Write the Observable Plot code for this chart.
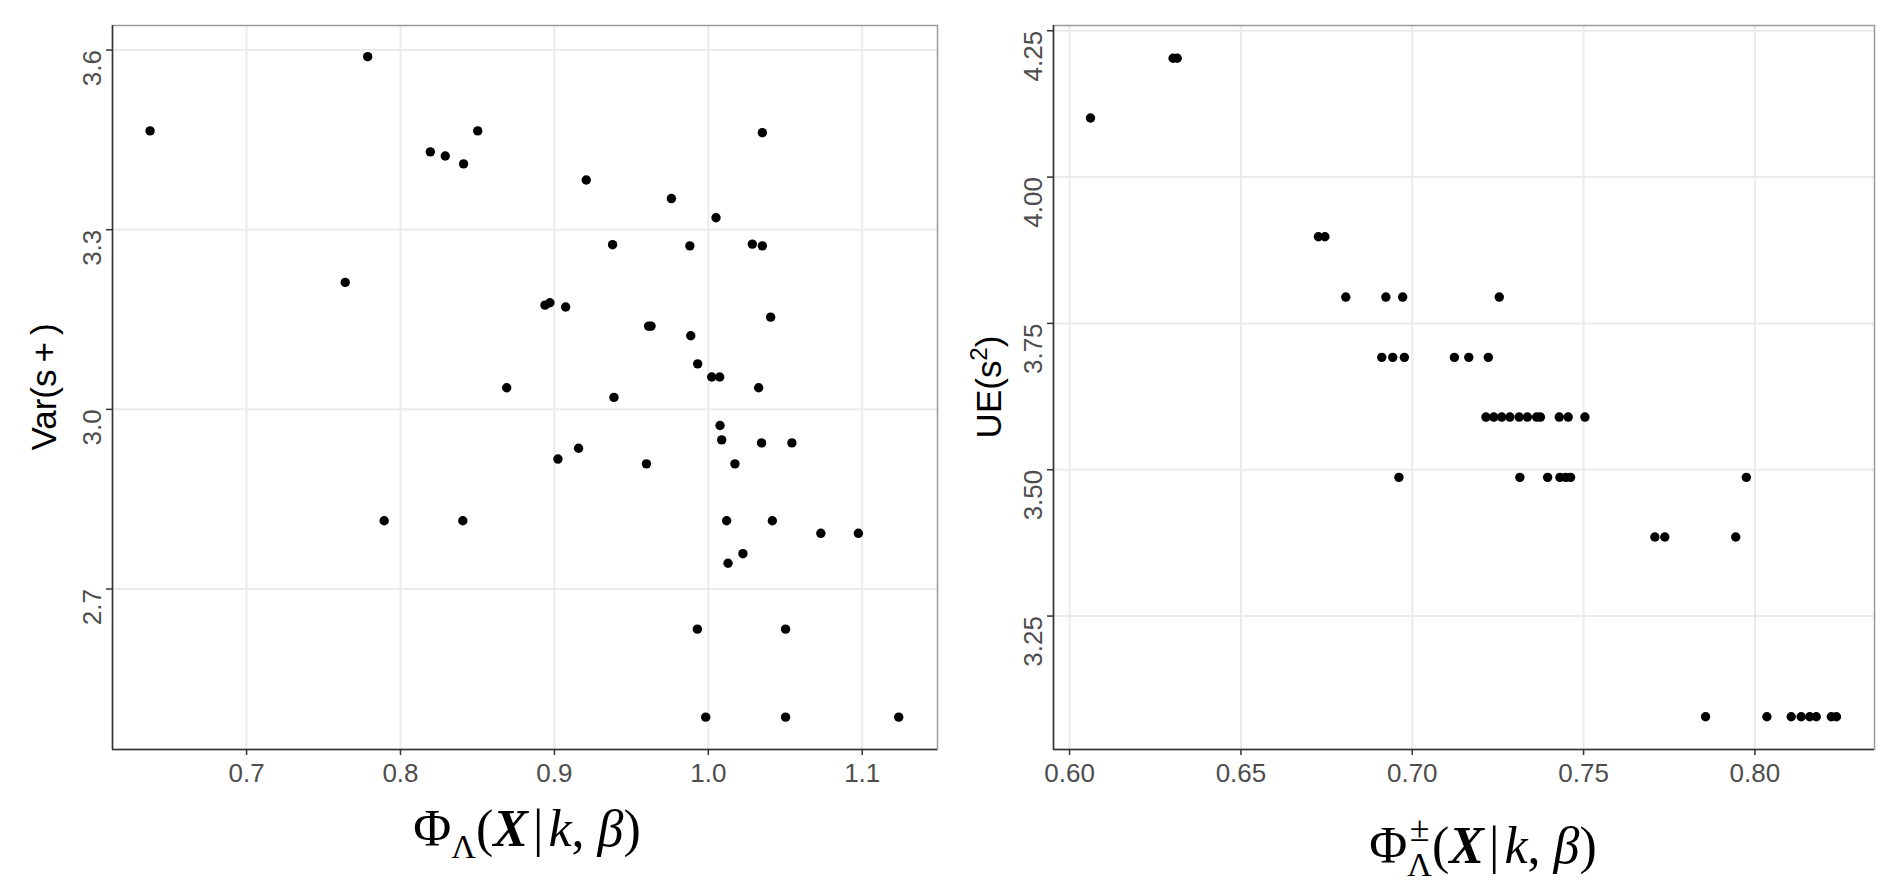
<!DOCTYPE html>
<html>
<head>
<meta charset="utf-8">
<script src="https://cdn.jsdelivr.net/npm/d3@7"></script>
<script src="https://cdn.jsdelivr.net/npm/@observablehq/plot@0.6"></script>
<style>
  html, body { margin: 0; padding: 0; background: #ffffff; }
  #wrap { position: relative; width: 1884px; height: 886px; overflow: hidden; background: #fff; }
  #left, #right { position: absolute; top: 0; width: 942px; height: 886px; }
  #left { left: 0; }
  #right { left: 942px; }
  svg.plot, svg { max-width: none !important; }
</style>
</head>
<body>
<div id="wrap"><div id="left"></div><div id="right"></div></div>
<script>
// ---------- Left panel data: Phi_Lambda vs Var(s+) ----------
const leftX = [0.6373, 0.7787, 0.8194, 0.8291, 0.8410, 0.8502, 0.7641, 0.7894, 0.8405, 0.8690,
               0.8939, 0.8971, 0.9073, 0.9207, 0.9378, 0.9387, 0.9023, 0.9157, 0.9598, 0.9612,
               0.9628, 0.9760, 0.9880, 0.9886, 0.9931, 1.0022, 1.0074, 1.0050, 1.0286, 1.0351,
               1.0351, 1.0405, 1.0327, 1.0076, 1.0087, 1.0346, 1.0543, 1.0173, 1.0119, 1.0416,
               1.0731, 1.0975, 1.0225, 1.0128, 0.9929, 1.0502, 0.9983, 1.0502, 1.1237];
const leftY = [3.465, 3.589, 3.430, 3.423, 3.410, 3.465, 3.212, 2.814, 2.814, 3.036,
               3.174, 3.178, 3.171, 3.383, 3.275, 3.020, 2.917, 2.935, 2.909, 3.139,
               3.139, 3.352, 3.273, 3.123, 3.076, 3.054, 3.054, 3.320, 3.276, 3.273,
               3.462, 3.154, 3.036, 2.973, 2.949, 2.944, 2.944, 2.909, 2.814, 2.814,
               2.793, 2.793, 2.759, 2.743, 2.633, 2.633, 2.486, 2.486, 2.486];
const leftXTicks = [0.7, 0.8, 0.9, 1.0, 1.1];
const leftXTickLabels = ["0.7", "0.8", "0.9", "1.0", "1.1"];
const leftYTicks = [2.7, 3.0, 3.3, 3.6];
const leftYTickLabels = ["2.7", "3.0", "3.3", "3.6"];
const leftXDomain = [0.6129, 1.1489];
const leftYDomain = [2.432, 3.641];

// ---------- Right panel data: Phi^±_Lambda vs UE(s^2) ----------
const rightX = [0.6061,
                0.6302, 0.6314,
                0.6726, 0.6745,
                0.6806, 0.6923, 0.6972, 0.7254,
                0.6911, 0.6943, 0.6977, 0.7123, 0.7165, 0.7222,
                0.7215, 0.7238, 0.7261, 0.7285, 0.7312, 0.7336, 0.7363, 0.7374, 0.7429, 0.7455, 0.7504,
                0.6961, 0.7314, 0.7395, 0.7431, 0.7448, 0.7462, 0.7975,
                0.7708, 0.7737, 0.7944,
                0.7856, 0.8035, 0.8106, 0.8135, 0.8160, 0.8179, 0.8223, 0.8238];
const rightY = [4.101,
                4.203, 4.203,
                3.898, 3.898,
                3.795, 3.795, 3.795, 3.795,
                3.692, 3.692, 3.692, 3.692, 3.692, 3.692,
                3.590, 3.590, 3.590, 3.590, 3.590, 3.590, 3.590, 3.590, 3.590, 3.590, 3.590,
                3.487, 3.487, 3.487, 3.487, 3.487, 3.487, 3.487,
                3.385, 3.385, 3.385,
                3.078, 3.078, 3.078, 3.078, 3.078, 3.078, 3.078, 3.078];
const rightXTicks = [0.60, 0.65, 0.70, 0.75, 0.80];
const rightXTickLabels = ["0.60", "0.65", "0.70", "0.75", "0.80"];
const rightYTicks = [3.25, 3.50, 3.75, 4.00, 4.25];
const rightYTickLabels = ["3.25", "3.50", "3.75", "4.00", "4.25"];
const rightXDomain = [0.5953, 0.8349];
const rightYDomain = [3.022, 4.259];

const TICK_FONT = "'Liberation Sans', Arial, sans-serif";
const MATH_FONT = "'Liberation Serif', 'DejaVu Serif', serif";

function panel({xs, ys, xTicks, xLabels, yTicks, yLabels, xDomain, yDomain, marginLeft, marginRight}) {
  const pts = xs.map((x, i) => ({x, y: ys[i]}));
  const yTickData = yTicks.map((v, i) => ({v, t: yLabels[i]}));
  return Plot.plot({
    width: 942,
    height: 886,
    marginLeft, marginRight,
    marginTop: 25,
    marginBottom: 137,
    style: {background: "#ffffff", fontFamily: TICK_FONT, overflow: "visible"},
    x: {domain: xDomain},
    y: {domain: yDomain},
    marks: [
      Plot.gridX(xTicks, {stroke: "#ebebeb", strokeOpacity: 1, strokeWidth: 2}),
      Plot.gridY(yTicks, {stroke: "#ebebeb", strokeOpacity: 1, strokeWidth: 2}),
      Plot.frame({stroke: "#9a9a9a", strokeWidth: 1.5}),
      Plot.ruleX([xDomain[0]], {stroke: "#333333", strokeWidth: 1.5}),
      Plot.ruleY([yDomain[0]], {stroke: "#333333", strokeWidth: 1.5}),
      Plot.axisX(xTicks, {
        tickSize: 6, tickPadding: 8, stroke: "#333333", strokeWidth: 1.5,
        color: "#4d4d4d", fill: "#4d4d4d", fontSize: 26, label: null,
        tickFormat: (d) => xLabels[xTicks.indexOf(d)]
      }),
      Plot.axisY(yTicks, {
        tickSize: 6, stroke: "#333333", strokeWidth: 1.5, fill: "none", label: null,
        tickFormat: () => ""
      }),
      Plot.text(yTickData, {
        y: "v", text: "t", frameAnchor: "left", dx: -12, rotate: -90,
        textAnchor: "end", lineAnchor: "bottom", fontSize: 26, fill: "#4d4d4d"
      }),
      Plot.dot(pts, {x: "x", y: "y", r: 4.7, fill: "#000000", stroke: "none"})
    ]
  });
}

const leftPlot = panel({
  xs: leftX, ys: leftY, xTicks: leftXTicks, xLabels: leftXTickLabels,
  yTicks: leftYTicks, yLabels: leftYTickLabels, xDomain: leftXDomain, yDomain: leftYDomain,
  marginLeft: 112, marginRight: 5
});
const rightPlot = panel({
  xs: rightX, ys: rightY, xTicks: rightXTicks, xLabels: rightXTickLabels,
  yTicks: rightYTicks, yLabels: rightYTickLabels, xDomain: rightXDomain, yDomain: rightYDomain,
  marginLeft: 111, marginRight: 10
});
document.getElementById("left").appendChild(leftPlot);
document.getElementById("right").appendChild(rightPlot);

// ---------- Axis titles (real text) ----------
function yTitle(svg, bx, cy, parts) {
  const t = d3.select(svg).append("text")
    .attr("transform", `translate(${bx},${cy}) rotate(-90)`)
    .attr("text-anchor", "middle")
    .attr("font-family", TICK_FONT)
    .attr("font-size", 35)
    .attr("fill", "#000");
  parts.forEach(p => {
    const s = t.append("tspan").text(p.t);
    if (p.size) s.attr("font-size", p.size);
    if (p.dy) s.attr("dy", p.dy);
  });
}
yTitle(leftPlot, 56, 387, [{t: "Var(s\u2009+\u2009)"}]);
yTitle(rightPlot, 59, 387, [{t: "UE(s"}, {t: "2", size: 24, dy: -14}, {t: ")", dy: 14}]);

function xTitle(svg, cx, by, withPM) {
  const g = d3.select(svg).append("g")
    .attr("font-family", MATH_FONT)
    .attr("fill", "#000");
  const main = g.append("text")
    .attr("x", cx).attr("y", by)
    .attr("text-anchor", "middle")
    .attr("font-size", 52);
  main.append("tspan").text("\u03A6");
  main.append("tspan").text("\u039B").attr("font-size", 34).attr("dy", withPM ? 13 : 12);
  main.append("tspan").text("(").attr("dy", withPM ? -13 : -12);
  main.append("tspan").text("X").attr("font-weight", "bold").attr("font-style", "italic");
  main.append("tspan").text("|").attr("dx", 5);
  main.append("tspan").text("k").attr("font-style", "italic").attr("dx", 5);
  main.append("tspan").text(", ");
  main.append("tspan").text("\u03B2").attr("font-style", "italic");
  main.append("tspan").text(")");
  if (withPM) {
    // superscript ± stacked above the subscript Λ
    const node = main.node();
    const sub = node.getExtentOfChar ? node.getExtentOfChar(1) : null;
    if (sub) {
      g.append("text")
        .attr("x", sub.x + sub.width / 2).attr("y", by - 22)
        .attr("text-anchor", "middle")
        .attr("font-size", 36)
        .text("\u00B1");
    }
  }
}
xTitle(leftPlot, 527, 846, false);
xTitle(rightPlot, 541, 863, true);
</script>
</body>
</html>
